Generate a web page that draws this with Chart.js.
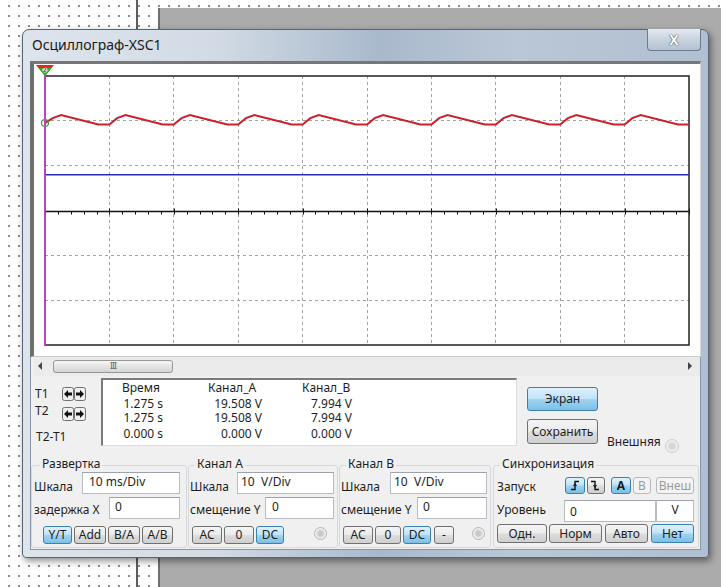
<!DOCTYPE html>
<html lang="ru">
<head>
<meta charset="utf-8">
<title>Осциллограф-XSC1</title>
<script src="https://cdn.jsdelivr.net/npm/chart.js@4.4.1/dist/chart.umd.min.js"></script>
<style>
  html, body { margin: 0; padding: 0; }
  body {
    width: 721px; height: 587px; overflow: hidden; position: relative;
    font-family: "Noto Sans", "DejaVu Sans", sans-serif; font-size: 12px; color: #1e1e1e;
    background-color: #fff;
    background-image: radial-gradient(circle, #8c8c8c 0.8px, transparent 1.3px);
    background-size: 10px 10px; background-position: 4px 1px;
  }
  .a { position: absolute; box-sizing: border-box; }
  .t { position: absolute; line-height: 16px; white-space: pre; }
  .btn {
    position: absolute; box-sizing: border-box; text-align: center; white-space: pre;
    border: 1px solid #707070; border-radius: 3px;
    background: linear-gradient(#f4f4f4 0%, #ebebeb 48%, #dcdcdc 52%, #d0d0d0 100%);
  }
  .btn.on {
    border-color: #3c7fb1;
    background: linear-gradient(#dff1fc 0%, #bfe3f7 48%, #9fd3f0 52%, #7cc0e6 100%);
  }
  .btn.off { border-color: #b7b9bb; color: #9a9a9a; background: #f4f4f4; }
  .inp { position: absolute; box-sizing: border-box; background: #fff; border: 1px solid #b9bcc3; border-top-color: #9ea2aa; }
  .grp { position: absolute; box-sizing: border-box; border: 1px solid #d6d9dc; border-radius: 3px; }
  .lbl { position: absolute; line-height: 16px; background: #f0f0f0; padding: 0 2px; }
  .radio {
    position: absolute; box-sizing: border-box; border-radius: 50%;
    border: 1px solid #b4b4b4; background: radial-gradient(circle, #c9c9c9 30%, #eeeeee 60%, #f8f8f8 100%);
  }
</style>
</head>
<body>

<!-- workspace behind the instrument -->
<div class="a" style="left:136px;top:0;width:2px;height:587px;background:#5d5d5d"></div>
<div class="a" style="left:158px;top:8px;right:0;bottom:0;background:#ababab;border-left:2px solid #6e6e6e"></div>

<!-- instrument window -->
<div class="a" style="left:22px;top:29px;width:687px;height:529px;border:1px solid #566578;border-radius:7px 7px 4px 4px;
  background:linear-gradient(90deg,#dde4ec 0%,#d2dbe5 28%,#a9b9cc 52%,#bac7d6 72%,#b0bfd1 100%);
  box-shadow:2px 3px 7px rgba(0,0,0,0.45)"></div>
<div class="t" style="left:32px;top:37px;font-size:14px;color:#1a1a1a">Осциллограф-XSC1</div>
<div class="a" style="left:647px;top:29px;width:54px;height:22px;border:1px solid #6c7b8f;border-top:none;border-radius:0 0 4px 4px;
  background:linear-gradient(#e3e9f0,#c8d3df 50%,#b3c2d3)"></div>
<div class="t" style="left:647px;top:32px;width:54px;text-align:center;font-weight:bold;font-size:14px;color:#fff;
  text-shadow:0 0 1px #2a2a2a,0 0 1px #2a2a2a">X</div>

<!-- client area -->
<div class="a" style="left:30px;top:61px;width:671px;height:489px;background:#f0f0f0;border:1px solid #8796aa"></div>

<!-- scope screen -->
<div class="a" style="left:30px;top:61px;width:671px;height:296px;background:#fff;
  border-left:4px solid #6f6f6f;border-top:3px solid #777;border-right:1px solid #d8d8d8;border-bottom:1px solid #c9c9c9"></div>
<canvas id="scope" class="a" width="664" height="293" style="left:36px;top:64px;width:664px;height:293px"></canvas>

<!-- horizontal scrollbar -->
<div class="a" style="left:34px;top:357px;width:666px;height:19px;background:#ebebeb"></div>
<svg class="a" style="left:36px;top:361px" width="8" height="10"><polygon points="6,1 6,9 2,5" fill="#444"/></svg>
<svg class="a" style="left:686px;top:361px" width="8" height="10"><polygon points="2,1 2,9 6,5" fill="#444"/></svg>
<div class="a" style="left:53px;top:360px;width:120px;height:13px;border:1px solid #979797;border-radius:3px;
  background:linear-gradient(#f7f7f7,#e4e4e4 50%,#d4d4d4)"></div>
<div class="t" style="left:53px;top:358px;width:120px;text-align:center;font-size:9px;color:#666;letter-spacing:-1px">III</div>

<!-- cursor readout -->
<div class="t" style="left:35px;top:386px">T1</div>
<div class="t" style="left:35px;top:403px">T2</div>
<div class="t" style="left:36px;top:429px">T2-T1</div>
<svg class="a" style="left:61px;top:386px" width="38" height="36">
  <g stroke="#707070" fill="#efefef"><rect x="1.5" y="1.5" width="11" height="13" rx="2"/><rect x="13.5" y="1.5" width="11" height="13" rx="2"/>
  <rect x="1.5" y="21.5" width="11" height="13" rx="2"/><rect x="13.5" y="21.5" width="11" height="13" rx="2"/></g>
  <g fill="#111">
    <polygon points="3,8 7,4 7,6.5 11,6.5 11,9.5 7,9.5 7,12"/><polygon points="23,8 19,4 19,6.5 15,6.5 15,9.5 19,9.5 19,12"/>
    <polygon points="3,28 7,24 7,26.5 11,26.5 11,29.5 7,29.5 7,32"/><polygon points="23,28 19,24 19,26.5 15,26.5 15,29.5 19,29.5 19,32"/>
  </g>
</svg>
<div class="a" style="left:101px;top:378px;width:416px;height:68px;background:#fff;
  border-top:2px solid #7b7b7b;border-left:2px solid #7b7b7b;border-right:1px solid #dcdcdc;border-bottom:1px solid #dcdcdc"></div>
<div class="t" style="left:122px;top:380px">Время</div>
<div class="t" style="left:208px;top:380px">Канал_A</div>
<div class="t" style="left:302px;top:380px">Канал_B</div>
<div id="readout"></div>

<div class="btn on" style="left:527px;top:387px;width:71px;height:24px;line-height:22px">Экран</div>
<div class="btn" style="left:527px;top:419px;width:71px;height:25px;line-height:23px">Сохранить</div>
<div class="t" style="left:607px;top:434px">Внешняя</div>
<div class="radio" style="left:665px;top:439px;width:14px;height:14px;opacity:0.6"></div>

<!-- timebase / channel / trigger groups -->
<div class="grp" style="left:31px;top:465px;width:156px;height:83px"></div>
<div class="grp" style="left:188px;top:465px;width:150px;height:83px"></div>
<div class="grp" style="left:339px;top:465px;width:152px;height:83px"></div>
<div class="grp" style="left:493px;top:465px;width:206px;height:83px"></div>
<div class="lbl" style="left:40px;top:456px">Развертка</div>
<div class="lbl" style="left:195px;top:456px">Канал A</div>
<div class="lbl" style="left:346px;top:456px">Канал B</div>
<div class="lbl" style="left:500px;top:456px">Синхронизация</div>

<div class="t" style="left:34px;top:479px">Шкала</div>
<div class="inp" style="left:82px;top:472px;width:98px;height:22px"></div>
<div class="t" style="left:89px;top:474px">10 ms/Div</div>
<div class="t" style="left:34px;top:502px">задержка X</div>
<div class="inp" style="left:109px;top:497px;width:71px;height:22px"></div>
<div class="t" style="left:115px;top:499px">0</div>
<div class="btn on" style="left:43px;top:526px;width:29px;height:18px;line-height:16px">Y/T</div>
<div class="btn" style="left:74px;top:526px;width:32px;height:18px;line-height:16px">Add</div>
<div class="btn" style="left:108px;top:526px;width:32px;height:18px;line-height:16px">B/A</div>
<div class="btn" style="left:142px;top:526px;width:31px;height:18px;line-height:16px">A/B</div>

<div class="t" style="left:190px;top:479px">Шкала</div>
<div class="inp" style="left:237px;top:472px;width:97px;height:22px"></div>
<div class="t" style="left:241px;top:474px">10  V/Div</div>
<div class="t" style="left:190px;top:502px">смещение Y</div>
<div class="inp" style="left:265px;top:497px;width:69px;height:22px"></div>
<div class="t" style="left:272px;top:499px">0</div>
<div class="btn" style="left:192px;top:526px;width:30px;height:18px;line-height:16px">AC</div>
<div class="btn" style="left:224px;top:526px;width:30px;height:18px;line-height:16px">0</div>
<div class="btn on" style="left:256px;top:526px;width:28px;height:18px;line-height:16px">DC</div>
<div class="radio" style="left:314px;top:527px;width:13px;height:13px"></div>

<div class="t" style="left:341px;top:479px">Шкала</div>
<div class="inp" style="left:390px;top:472px;width:97px;height:22px"></div>
<div class="t" style="left:394px;top:474px">10  V/Div</div>
<div class="t" style="left:341px;top:502px">смещение Y</div>
<div class="inp" style="left:417px;top:497px;width:70px;height:22px"></div>
<div class="t" style="left:423px;top:499px">0</div>
<div class="btn" style="left:343px;top:526px;width:30px;height:18px;line-height:16px">AC</div>
<div class="btn" style="left:375px;top:526px;width:26px;height:18px;line-height:16px">0</div>
<div class="btn on" style="left:403px;top:526px;width:28px;height:18px;line-height:16px">DC</div>
<div class="btn" style="left:434px;top:526px;width:20px;height:18px;line-height:16px">-</div>
<div class="radio" style="left:472px;top:527px;width:13px;height:13px"></div>

<div class="t" style="left:497px;top:479px">Запуск</div>
<div class="btn on" style="left:565px;top:477px;width:20px;height:17px"></div>
<div class="btn" style="left:587px;top:477px;width:18px;height:17px"></div>
<svg class="a" style="left:565px;top:477px" width="40" height="17">
  <polyline points="6,12.5 10,12.5 10,4.5 14,4.5" fill="none" stroke="#111" stroke-width="1.4"/>
  <polyline points="8.5,9 10,7 11.5,9" fill="none" stroke="#111" stroke-width="1.2"/>
  <polyline points="26,4.5 30,4.5 30,12.5 34,12.5" fill="none" stroke="#111" stroke-width="1.4"/>
  <polyline points="28.5,8 30,10 31.5,8" fill="none" stroke="#111" stroke-width="1.2"/>
</svg>
<div class="btn on" style="left:611px;top:477px;width:20px;height:17px;line-height:15px;font-weight:bold">A</div>
<div class="btn off" style="left:633px;top:477px;width:18px;height:17px;line-height:15px">B</div>
<div class="btn off" style="left:656px;top:477px;width:38px;height:17px;line-height:15px">Внеш</div>
<div class="t" style="left:497px;top:502px">Уровень</div>
<div class="inp" style="left:564px;top:500px;width:92px;height:22px"></div>
<div class="t" style="left:570px;top:504px">0</div>
<div class="inp" style="left:656px;top:500px;width:38px;height:22px"></div>
<div class="t" style="left:656px;top:502px;width:38px;text-align:center">V</div>
<div class="btn" style="left:497px;top:524px;width:50px;height:19px;line-height:17px">Одн.</div>
<div class="btn" style="left:549px;top:524px;width:53px;height:19px;line-height:17px">Норм</div>
<div class="btn" style="left:605px;top:524px;width:43px;height:19px;line-height:17px">Авто</div>
<div class="btn on" style="left:651px;top:524px;width:43px;height:19px;line-height:17px">Нет</div>

<script>
// Screen: 10 ms/Div x 10 div, 10 V/Div x 6 div
const timeMs = [0, 1.2, 2.5, 8.3, 10, 11.2, 12.5, 18.3, 20, 21.2, 22.5, 28.3, 30, 31.2, 32.5, 38.3,
  40, 41.2, 42.5, 48.3, 50, 51.2, 52.5, 58.3, 60, 61.2, 62.5, 68.3, 70, 71.2, 72.5, 78.3,
  80, 81.2, 82.5, 88.3, 90, 91.2, 92.5, 98.3, 100];
const channelA = [19.508, 20.6, 21.3, 19.2, 19.2, 20.6, 21.3, 19.2, 19.2, 20.6, 21.3, 19.2, 19.2, 20.6, 21.3, 19.2,
  19.2, 20.6, 21.3, 19.2, 19.2, 20.6, 21.3, 19.2, 19.2, 20.6, 21.3, 19.2, 19.2, 20.6, 21.3, 19.2,
  19.2, 20.6, 21.3, 19.2, 19.2, 20.6, 21.3, 19.2, 19.2];
const channelBTime = [0, 100];
const channelB = [7.994, 7.994];

// cursors T1 and T2 both sit at the left edge of the screen
const cursorMs = 0;
const cursorSeconds = [1.275, 1.275];

const timeDivs = [0, 10, 20, 30, 40, 50, 60, 70, 80, 90, 100];
const voltDivs = [-30, -20, -10, 0, 10, 20, 30];

// readout table
function fmt(v, unit) { return v.toFixed(3) + ' ' + unit; }
const rows = [
  [fmt(cursorSeconds[0], 's'), fmt(channelA[0], 'V'), fmt(channelB[0], 'V')],
  [fmt(cursorSeconds[1], 's'), fmt(channelA[0], 'V'), fmt(channelB[0], 'V')],
  [fmt(cursorSeconds[1] - cursorSeconds[0], 's'), fmt(0, 'V'), fmt(0, 'V')]
];
const rowTops = [396, 410, 426];
const colRights = [163, 262, 352];
const readout = document.getElementById('readout');
rows.forEach((row, r) => {
  row.forEach((txt, c) => {
    const el = document.createElement('div');
    el.className = 't';
    el.style.left = (colRights[c] - 70) + 'px';
    el.style.width = '70px';
    el.style.textAlign = 'right';
    el.style.top = rowTops[r] + 'px';
    el.textContent = txt;
    readout.appendChild(el);
  });
});

// frame, zero axis with ticks, cursor flag
const scopeDecor = {
  id: 'scopeDecor',
  beforeDatasetsDraw(chart) {
    const { ctx, chartArea: a, scales: { x, y } } = chart;
    const y0 = Math.round(y.getPixelForValue(0)) + 0.5;
    ctx.save();
    ctx.strokeStyle = '#111';
    ctx.lineWidth = 1.4;
    ctx.beginPath();
    ctx.moveTo(a.left, y0);
    ctx.lineTo(a.right, y0);
    ctx.stroke();
    ctx.lineWidth = 1;
    ctx.beginPath();
    for (let t = 0; t <= 100; t += 2) {
      const px = Math.round(x.getPixelForValue(t)) + 0.5;
      const major = t % 10 === 0;
      ctx.moveTo(px, major ? y0 - 3 : y0);
      ctx.lineTo(px, y0 + 3);
    }
    ctx.stroke();
    ctx.strokeStyle = '#222';
    ctx.lineWidth = 1.5;
    ctx.strokeRect(a.left, a.top, a.right - a.left, a.bottom - a.top);
    ctx.restore();
  },
  afterDraw(chart) {
    const { ctx, chartArea: a, scales: { x } } = chart;
    const cx = x.getPixelForValue(cursorMs);
    const top = a.top - 11;
    ctx.save();
    ctx.fillStyle = '#e8241c';
    ctx.beginPath();
    ctx.moveTo(cx - 9, top);
    ctx.lineTo(cx + 9, top);
    ctx.lineTo(cx, top + 11);
    ctx.closePath();
    ctx.fill();
    ctx.fillStyle = '#25b42a';
    ctx.beginPath();
    ctx.moveTo(cx - 6.5, top + 3);
    ctx.lineTo(cx + 6.5, top + 3);
    ctx.lineTo(cx, top + 11);
    ctx.closePath();
    ctx.fill();
    ctx.fillStyle = '#dcdcdc';
    ctx.beginPath();
    ctx.arc(cx, top + 5, 2.6, 0, Math.PI * 2);
    ctx.fill();
    ctx.fillStyle = '#333';
    ctx.font = '6px "DejaVu Sans"';
    ctx.textAlign = 'center';
    ctx.textBaseline = 'middle';
    ctx.fillText('2', cx, top + 5.3);
    ctx.restore();
  }
};

const gridColor = (edges) => (c) => edges.includes(c.tick.value) ? 'rgba(0,0,0,0)' : '#a4a4a4';

new Chart(document.getElementById('scope'), {
  type: 'line',
  data: {
    datasets: [
      {
        label: 'T1',
        data: [{ x: cursorMs, y: voltDivs[0] }, { x: cursorMs, y: voltDivs[voltDivs.length - 1] }],
        borderColor: '#e03ce6', borderWidth: 1.5, pointRadius: 0, clip: false, order: 0
      },
      {
        label: 'A @ T1',
        data: [{ x: cursorMs, y: channelA[0] }],
        showLine: false, pointRadius: 3.5, pointBorderWidth: 1.2,
        pointBorderColor: '#3aa33a', pointBackgroundColor: 'rgba(0,0,0,0)', clip: false, order: 1
      },
      {
        label: 'Канал A',
        data: timeMs.map((t, i) => ({ x: t, y: channelA[i] })),
        borderColor: '#cc1f2c', borderWidth: 2, pointRadius: 0, tension: 0, order: 2
      },
      {
        label: 'Канал B',
        data: channelBTime.map((t, i) => ({ x: t, y: channelB[i] })),
        borderColor: '#2a2ab8', borderWidth: 1.5, pointRadius: 0, order: 3
      }
    ]
  },
  options: {
    responsive: false,
    animation: false,
    devicePixelRatio: 1,
    layout: { padding: { left: 9, top: 12, right: 11, bottom: 12 } },
    plugins: { legend: { display: false }, tooltip: { enabled: false } },
    scales: {
      x: {
        type: 'linear', min: timeDivs[0], max: timeDivs[timeDivs.length - 1],
        afterBuildTicks: (s) => { s.ticks = timeDivs.map(v => ({ value: v })); },
        ticks: { display: false },
        grid: { color: gridColor([0, 100]), lineWidth: 1, drawTicks: false },
        border: { display: false, dash: [3, 3] }
      },
      y: {
        type: 'linear', min: voltDivs[0], max: voltDivs[voltDivs.length - 1],
        afterBuildTicks: (s) => { s.ticks = voltDivs.map(v => ({ value: v })); },
        ticks: { display: false },
        grid: { color: gridColor([-30, 0, 30]), lineWidth: 1, drawTicks: false },
        border: { display: false, dash: [3, 3] }
      }
    }
  },
  plugins: [scopeDecor]
});
</script>
</body>
</html>
